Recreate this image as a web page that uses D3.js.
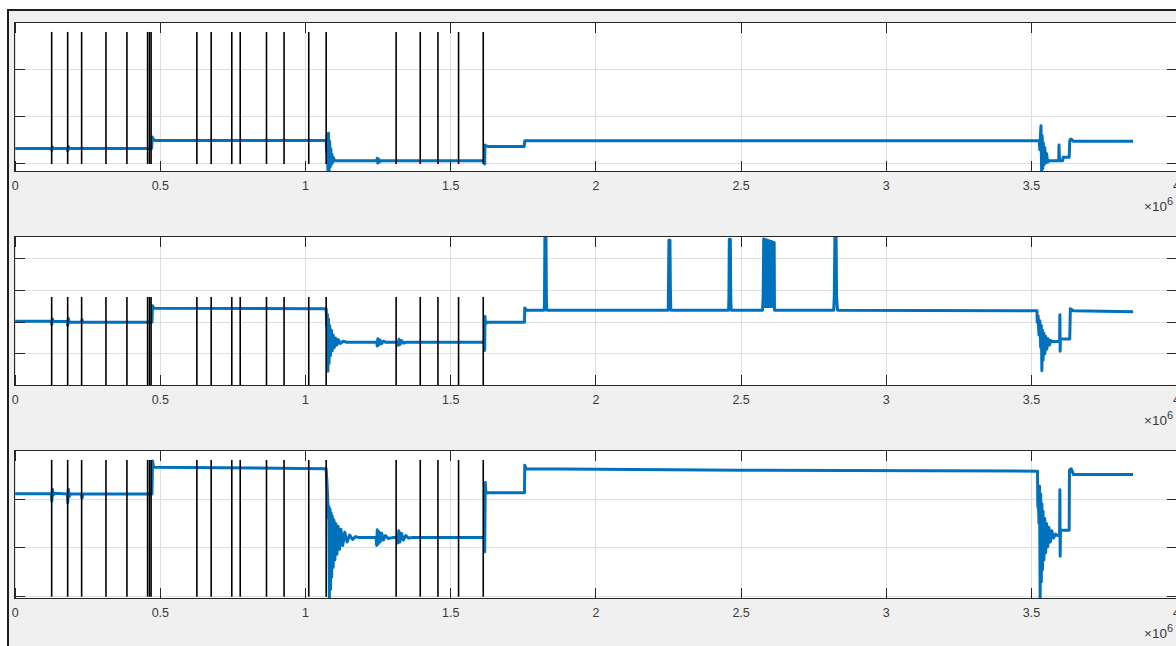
<!DOCTYPE html>
<html>
<head>
<meta charset="utf-8">
<script src="https://cdn.jsdelivr.net/npm/d3@7"></script>
<style>
    body { margin: 0; background: #fff; }
    svg text { font-family: "Liberation Sans", Arial, sans-serif; }
</style>
</head>
<body>
<script>
// Data (time in units of 1e6)
const xTicks = [0, 0.5, 1, 1.5, 2, 2.5, 3, 3.5, 4];
const xTickLabels = ["0", "0.5", "1", "1.5", "2", "2.5", "3", "3.5", "4"];

const eventTimes = [0.1256, 0.1807, 0.2288, 0.3126, 0.3848, 0.456, 0.4625, 0.468,
    0.6257, 0.675, 0.746, 0.775, 0.8655, 0.926, 1.011, 1.071,
    1.312, 1.395, 1.456, 1.527, 1.612];
const eventHeight = 2.8;

const yDomainTop = [-0.16, 3.0];
const yTicksTop = [0, 1, 2, 3];
const yDomainMid = [0, 4.71];
const yTicksMid = [0, 1, 2, 3, 4];
const yDomainBottom = [-0.037, 2.993];
const yTicksBottom = [0, 1, 2];

const signalTop = [
    [0, 0.33], [0.125, 0.33], [0.126, 0.29], [0.128, 0.36], [0.131, 0.33],
    [0.18, 0.33], [0.181, 0.28], [0.183, 0.37], [0.186, 0.33],
    [0.47, 0.33], [0.472, 0.57], [0.476, 0.52], [0.48, 0.5],
    [1.071, 0.5], [1.073, 0.25], [1.075, 0.62], [1.077, -0.15], [1.079, 0.65], [1.081, -0.14],
    [1.083, 0.48], [1.085, -0.06], [1.087, 0.32], [1.089, -0.01], [1.091, 0.2], [1.093, 0.03],
    [1.096, 0.13], [1.1, 0.07],
    [1.245, 0.07], [1.247, 0.12], [1.249, 0.02], [1.252, 0.1], [1.256, 0.05], [1.26, 0.07],
    [1.616, 0.07], [1.617, 0.0], [1.618, 0.4], [1.622, 0.38], [1.63, 0.37],
    [1.753, 0.37], [1.755, 0.49], [3.527, 0.49],
    [3.529, 0.3], [3.531, 0.6], [3.533, 0.81], [3.535, -0.14], [3.537, 0.6], [3.539, -0.1],
    [3.541, 0.45], [3.543, -0.02], [3.546, 0.35], [3.549, 0.02], [3.552, 0.22], [3.556, 0.04],
    [3.561, 0.07], [3.594, 0.07], [3.595, 0.4], [3.597, 0.07], [3.608, 0.07], [3.609, 0.14],
    [3.63, 0.14], [3.632, 0.5], [3.636, 0.53], [3.645, 0.48], [3.85, 0.48]
];

const signalMid = [
    [0, 2.03], [0.125, 2.03], [0.126, 1.93], [0.128, 2.1], [0.131, 2.02],
    [0.18, 2.02], [0.181, 1.9], [0.183, 2.12], [0.186, 2.0], [0.229, 2.0], [0.23, 2.08], [0.233, 2.0],
    [0.47, 2.0], [0.471, 2.0], [0.473, 2.52], [0.478, 2.44], [1.071, 2.43],
    [1.073, 1.9], [1.075, 2.25], [1.077, 0.45], [1.079, 2.1], [1.081, 0.7], [1.083, 1.9],
    [1.086, 0.95], [1.089, 1.75], [1.092, 1.1], [1.095, 1.6], [1.099, 1.2], [1.103, 1.5],
    [1.108, 1.28], [1.113, 1.45], [1.12, 1.33], [1.13, 1.4], [1.14, 1.37],
    [1.245, 1.37], [1.247, 1.25], [1.249, 1.48], [1.252, 1.28], [1.256, 1.44], [1.261, 1.32],
    [1.268, 1.4], [1.275, 1.37],
    [1.317, 1.37], [1.319, 1.27], [1.322, 1.46], [1.326, 1.3], [1.331, 1.42], [1.338, 1.34], [1.345, 1.37],
    [1.616, 1.37], [1.617, 1.11], [1.618, 2.18], [1.62, 1.95], [1.625, 2.0],
    [1.754, 2.0], [1.755, 2.45], [1.76, 2.39],
    [1.822, 2.38], [1.823, 2.75], [1.8245, 4.9], [1.8265, 2.8], [1.828, 4.9], [1.8295, 2.75], [1.831, 2.38],
    [2.249, 2.38], [2.25, 3.1], [2.2515, 4.59], [2.2535, 3.0], [2.255, 4.59], [2.2565, 3.1], [2.258, 2.38],
    [2.457, 2.38], [2.458, 2.74], [2.4595, 4.62], [2.4615, 2.8], [2.463, 4.62], [2.4645, 2.74], [2.466, 2.38],
    [2.574, 2.38], [2.576, 2.8], [2.578, 4.63], [2.5795, 2.5], [2.581, 4.62], [2.5825, 2.5],
    [2.584, 4.61], [2.5855, 2.5], [2.587, 4.6], [2.5885, 2.5], [2.59, 4.59], [2.5915, 2.5],
    [2.593, 4.58], [2.5945, 2.5], [2.596, 4.57], [2.5975, 2.5], [2.599, 4.56], [2.6005, 2.5],
    [2.602, 4.56], [2.6035, 2.5], [2.605, 4.55], [2.6065, 2.5], [2.608, 4.54], [2.6095, 2.5],
    [2.611, 4.53], [2.6125, 2.5], [2.614, 4.52], [2.615, 2.38],
    [2.819, 2.38], [2.821, 2.8], [2.8235, 4.9], [2.8255, 2.9], [2.827, 4.9], [2.829, 2.8], [2.832, 2.38],
    [3.519, 2.36], [3.52, 2.0], [3.523, 2.2], [3.526, 1.6], [3.529, 2.05], [3.532, 1.2], [3.534, 1.9],
    [3.536, 0.47], [3.538, 1.75], [3.54, 0.8], [3.543, 1.65], [3.546, 1.0], [3.549, 1.55],
    [3.553, 1.15], [3.557, 1.48], [3.562, 1.28], [3.567, 1.42], [3.573, 1.39],
    [3.597, 1.39], [3.598, 2.24], [3.599, 1.08], [3.6, 1.47], [3.632, 1.47], [3.634, 2.43],
    [3.645, 2.36], [3.85, 2.33]
];

const signalBottom = [
    [0, 2.11], [0.125, 2.11], [0.126, 1.95], [0.128, 2.2], [0.131, 2.08], [0.135, 2.12],
    [0.18, 2.1], [0.181, 1.92], [0.183, 2.2], [0.186, 2.05], [0.19, 2.1],
    [0.228, 2.1], [0.23, 2.02], [0.234, 2.1], [0.47, 2.1],
    [0.471, 2.1], [0.473, 2.78], [0.476, 2.66], [0.48, 2.65], [1.071, 2.62],
    [1.074, 2.3], [1.077, 1.9], [1.079, 1.6], [1.08, 1.85], [1.082, -0.05], [1.084, 1.8],
    [1.086, 0.15], [1.088, 1.72], [1.09, 0.4], [1.092, 1.65], [1.095, 0.6], [1.098, 1.57],
    [1.101, 0.75], [1.104, 1.5], [1.108, 0.87], [1.112, 1.44], [1.117, 0.97], [1.122, 1.38],
    [1.128, 1.05], [1.135, 1.32], [1.143, 1.12], [1.152, 1.26], [1.162, 1.17], [1.172, 1.23],
    [1.185, 1.21],
    [1.243, 1.21], [1.245, 1.05], [1.247, 1.37], [1.25, 1.08], [1.253, 1.33], [1.257, 1.12],
    [1.262, 1.3], [1.268, 1.16], [1.275, 1.25], [1.285, 1.19], [1.3, 1.21],
    [1.316, 1.21], [1.318, 1.1], [1.321, 1.35], [1.325, 1.12], [1.33, 1.3], [1.337, 1.16],
    [1.345, 1.25], [1.355, 1.2], [1.37, 1.21],
    [1.616, 1.21], [1.617, 0.92], [1.619, 2.34], [1.621, 2.13],
    [1.754, 2.13], [1.755, 2.69], [1.76, 2.62], [2.5, 2.59], [3.521, 2.57],
    [3.522, 1.84], [3.524, 2.0], [3.526, 1.5], [3.528, 2.26], [3.53, -0.05], [3.532, 2.1],
    [3.534, 0.3], [3.536, 1.9], [3.538, 0.55], [3.54, 1.75], [3.543, 0.75], [3.546, 1.6],
    [3.549, 0.9], [3.552, 1.5], [3.556, 1.02], [3.56, 1.42], [3.565, 1.12], [3.57, 1.35],
    [3.576, 1.2], [3.583, 1.28], [3.59, 1.25], [3.597, 1.26],
    [3.598, 2.19], [3.599, 0.83], [3.6, 1.36], [3.63, 1.36], [3.631, 2.59], [3.637, 2.62],
    [3.645, 2.5], [3.85, 2.5]
];

// Layout
const width = 1176;
const height = 646;
const blue = "#0072bd";
const axisColor = "#262626";
const labelColor = "#3a3a3a";
const gridColor = "#dfdfdf";

const panels = [
    { top: 22.5, bottom: 171.5, yDomain: yDomainTop, yTicks: yTicksTop, signal: signalTop },
    { top: 236.5, bottom: 385.5, yDomain: yDomainMid, yTicks: yTicksMid, signal: signalMid },
    { top: 450.5, bottom: 598.5, yDomain: yDomainBottom, yTicks: yTicksBottom, signal: signalBottom }
];

const svg = d3.select('body').append('svg')
    .attr('width', width)
    .attr('height', height);

// Figure frame
svg.append('rect')
    .attr('x', 8)
    .attr('y', 10)
    .attr('width', width + 10)
    .attr('height', height + 10)
    .attr('fill', '#f0f0f0')
    .attr('stroke', '#1e1e1e')
    .attr('stroke-width', 2);

const boxLeft = 14.5;
const boxRight = 1177.5;
const x = d3.scaleLinear().domain([0, 4]).range([15.2, 1176.6]);
const tickLen = 10.5;

const drawPanel = (p, i) => {
    const y = d3.scaleLinear().domain(p.yDomain).range([p.bottom, p.top]);
    const g = svg.append('g');

    g.append('rect')
        .attr('x', boxLeft)
        .attr('y', p.top)
        .attr('width', boxRight - boxLeft)
        .attr('height', p.bottom - p.top)
        .attr('fill', '#fff');

    // Grid
    const grid = g.append('g')
        .attr('stroke', gridColor)
        .attr('stroke-width', 1)
        .attr('shape-rendering', 'crispEdges');
    grid.selectAll('line.gx')
        .data(xTicks)
        .join('line')
        .attr('class', 'gx')
        .attr('x1', d => x(d)).attr('x2', d => x(d))
        .attr('y1', p.top).attr('y2', p.bottom);
    grid.selectAll('line.gy')
        .data(p.yTicks)
        .join('line')
        .attr('class', 'gy')
        .attr('x1', boxLeft).attr('x2', boxRight)
        .attr('y1', d => y(d)).attr('y2', d => y(d));

    // Signal
    const clipId = 'clip' + i;
    g.append('clipPath')
        .attr('id', clipId)
        .append('rect')
        .attr('x', boxLeft)
        .attr('y', p.top)
        .attr('width', boxRight - boxLeft)
        .attr('height', p.bottom - p.top);

    const line = d3.line()
        .x(d => x(d[0]))
        .y(d => y(d[1]));

    g.append('path')
        .datum(p.signal)
        .attr('clip-path', 'url(#' + clipId + ')')
        .attr('d', line)
        .attr('fill', 'none')
        .attr('stroke', blue)
        .attr('stroke-width', 3)
        .attr('stroke-linejoin', 'round');

    // Events
    g.append('g')
        .selectAll('line')
        .data(eventTimes)
        .join('line')
        .attr('x1', d => x(d)).attr('x2', d => x(d))
        .attr('y1', y(0)).attr('y2', y(eventHeight))
        .attr('stroke', '#000')
        .attr('stroke-width', 1.6);

    // Box and ticks
    const axes = g.append('g')
        .attr('stroke', axisColor)
        .attr('stroke-width', 1)
        .attr('shape-rendering', 'crispEdges');
    axes.append('rect')
        .attr('x', boxLeft)
        .attr('y', p.top)
        .attr('width', boxRight - boxLeft)
        .attr('height', p.bottom - p.top)
        .attr('fill', 'none');
    axes.selectAll('line.tb')
        .data(xTicks)
        .join('line')
        .attr('class', 'tb')
        .attr('x1', d => x(d)).attr('x2', d => x(d))
        .attr('y1', p.bottom).attr('y2', p.bottom - tickLen);
    axes.selectAll('line.tt')
        .data(xTicks)
        .join('line')
        .attr('class', 'tt')
        .attr('x1', d => x(d)).attr('x2', d => x(d))
        .attr('y1', p.top).attr('y2', p.top + tickLen);
    axes.selectAll('line.tl')
        .data(p.yTicks)
        .join('line')
        .attr('class', 'tl')
        .attr('x1', boxLeft).attr('x2', boxLeft + tickLen)
        .attr('y1', d => y(d)).attr('y2', d => y(d));
    axes.selectAll('line.tr')
        .data(p.yTicks)
        .join('line')
        .attr('class', 'tr')
        .attr('x1', boxRight).attr('x2', boxRight - tickLen)
        .attr('y1', d => y(d)).attr('y2', d => y(d));

    // Tick labels
    g.append('g')
        .selectAll('text')
        .data(xTicks)
        .join('text')
        .attr('x', d => x(d))
        .attr('y', p.bottom + 18.5)
        .attr('text-anchor', 'middle')
        .attr('font-size', 12.5)
        .attr('fill', labelColor)
        .text((d, k) => xTickLabels[k]);

    const expo = g.append('text')
        .attr('x', 1144)
        .attr('y', p.bottom + 39.5)
        .attr('font-size', 13.5)
        .attr('fill', labelColor);
    expo.append('tspan').text('\u00d710');
    expo.append('tspan')
        .attr('dy', -6.5)
        .attr('font-size', 11)
        .text('6');
};

panels.forEach(drawPanel);
</script>
</body>
</html>
